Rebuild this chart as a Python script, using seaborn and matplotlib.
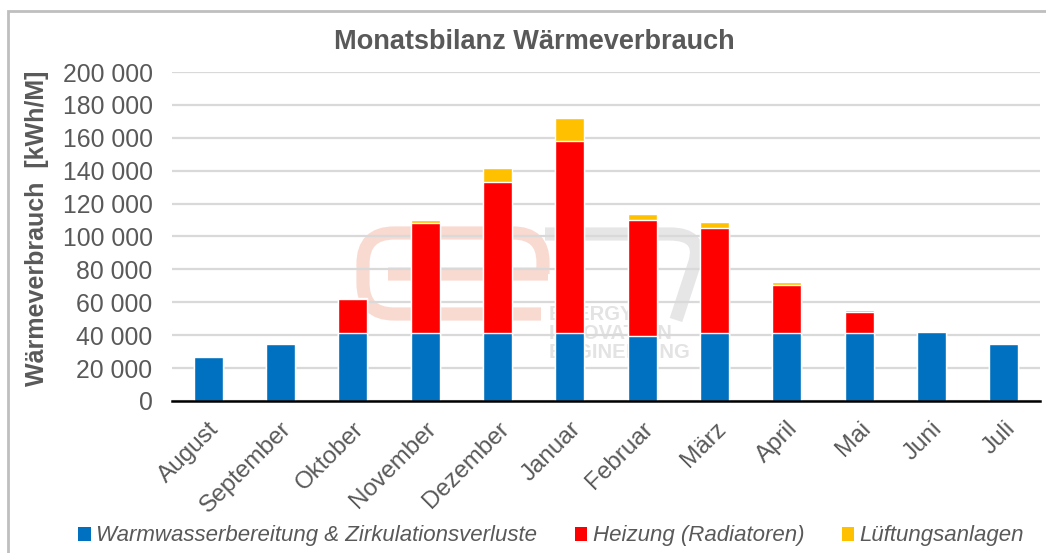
import matplotlib
matplotlib.use("Agg")
import matplotlib.pyplot as plt
import seaborn as sns
import pandas as pd
from matplotlib.patches import Patch, Rectangle, PathPatch
from matplotlib.path import Path
from matplotlib.transforms import Affine2D
from matplotlib.ticker import FuncFormatter, MultipleLocator, FixedLocator

# data (kWh per month)
months = ["August", "September", "Oktober", "November", "Dezember", "Januar",
          "Februar", "März", "April", "Mai", "Juni", "Juli"]
warmwasser = [26900, 34600, 41100, 41100, 41100, 41100, 39500, 41100, 41100, 41100, 41900, 34600]
heizung = [0, 0, 20800, 67300, 91800, 117200, 70400, 64300, 29700, 13200, 0, 0]
lueftung = [0, 800, 1000, 1900, 8700, 13600, 4000, 3700, 1600, 800, 0, 0]

labels = ["Warmwasserbereitung & Zirkulationsverluste", "Heizung (Radiatoren)", "Lüftungsanlagen"]
colors = ["#0070C0", "#FF0000", "#FFC000"]
grey = "#595959"

df = pd.DataFrame({"Monat": months, "ww": warmwasser, "hz": heizung, "lu": lueftung})
df["ww_hz"] = df["ww"] + df["hz"]
df["total"] = df["ww_hz"] + df["lu"]

sns.set_theme(style="white")
plt.rcParams["font.family"] = ["Liberation Sans", "DejaVu Sans"]

fig = plt.figure(figsize=(10.46, 5.53), dpi=100)
ax = fig.add_axes([172 / 1046, 1 - 401 / 553, (1040 - 172) / 1046, (401 - 72) / 553])

# stacked bars drawn as overlapping cumulative bars
sns.barplot(data=df, x="Monat", y="total", color=colors[2], width=0.4, saturation=1, ax=ax, zorder=3)
sns.barplot(data=df, x="Monat", y="ww_hz", color=colors[1], width=0.4, saturation=1, ax=ax, zorder=3)
sns.barplot(data=df, x="Monat", y="ww", color=colors[0], width=0.4, saturation=1, ax=ax, zorder=3)

ax.set_ylim(0, 200000)
ax.set_xlim(-0.5, 11.5)
ax.yaxis.set_major_locator(MultipleLocator(20000))
ax.yaxis.set_major_formatter(FuncFormatter(lambda v, p: f"{int(v):,}".replace(",", " ")))
ax.set_axisbelow(True)
ax.grid(axis="y", color="#D9D9D9", lw=1.6)

for s in ["left", "right", "top"]:
    ax.spines[s].set_visible(False)
ax.spines["bottom"].set_color("black")
ax.spines["bottom"].set_linewidth(1.8)
ax.spines["bottom"].set_zorder(5)

ax.tick_params(axis="y", length=0, pad=14, labelsize=17.8, labelcolor=grey)
ax.tick_params(axis="x", which="major", length=0, pad=12, labelsize=17.5, labelcolor=grey)
ax.xaxis.set_minor_locator(FixedLocator([i - 0.5 for i in range(13)]))
ax.tick_params(axis="x", which="minor", direction="inout", length=12, width=1.8, color="black")
plt.setp(ax.get_xticklabels(), rotation=45, ha="right", rotation_mode="anchor")
ax.set_xlabel("")
ax.set_ylabel("")

# faint logo watermark behind the bars (pixel coords, origin top-left)
px = Affine2D().scale(1 / 1046, -1 / 553).translate(0, 1) + fig.transFigure
e_path = Path([(543, 274), (543, 262), (543, 233), (513, 233), (394, 233), (363, 233), (363, 264),
               (363, 283), (363, 314), (394, 314), (541, 314), (388, 274), (548, 274)],
              [Path.MOVETO, Path.LINETO, Path.CURVE3, Path.CURVE3, Path.LINETO, Path.CURVE3, Path.CURVE3,
               Path.LINETO, Path.CURVE3, Path.CURVE3, Path.LINETO, Path.MOVETO, Path.LINETO])
ax.add_patch(PathPatch(e_path, transform=px, fill=False, edgecolor="#F9DAD1", lw=9.5,
                       capstyle="butt", zorder=0.1, clip_on=False))
seven = Path([(545, 234), (670, 234), (703, 234), (695, 262), (676, 320)],
             [Path.MOVETO, Path.LINETO, Path.CURVE3, Path.CURVE3, Path.LINETO])
ax.add_patch(PathPatch(seven, transform=px, fill=False, edgecolor="#E6E6E6", lw=9.5,
                       capstyle="butt", zorder=0.1, clip_on=False))
for i, t in enumerate(["ENERGY", "INNOVATION", "ENGINEERING"]):
    ax.text(549, 314 + i * 19.5, t, transform=px, color="#E3E3E3", fontsize=14.5, fontweight="bold",
            ha="left", va="center", zorder=0.2)

fig.text(534 / 1046, 1 - 42 / 553, "Monatsbilanz Wärmeverbrauch", ha="center", va="center",
         fontsize=19.5, fontweight="bold", color=grey)
fig.text(37 / 1046, 1 - 228 / 553, "Wärmeverbrauch  [kWh/M]", rotation=90, ha="center", va="center",
         fontsize=18, fontweight="bold", color=grey)

handles = [Patch(facecolor=c, edgecolor="none") for c in colors]
fig.legend(handles, labels, loc="center", bbox_to_anchor=(0.527, 1 - 536 / 553), ncol=3,
           frameon=False, handlelength=0.55, handleheight=0.6, handletextpad=0.25,
           columnspacing=1.7, prop={"style": "italic", "size": 16}, labelcolor=grey)

fig.patches.append(Rectangle((8 / 1046, -0.1), 1.2, 1.1 - 11 / 553, transform=fig.transFigure,
                             fill=False, edgecolor="#BFBFBF", lw=2))

fig.savefig("out.png", dpi=100)
